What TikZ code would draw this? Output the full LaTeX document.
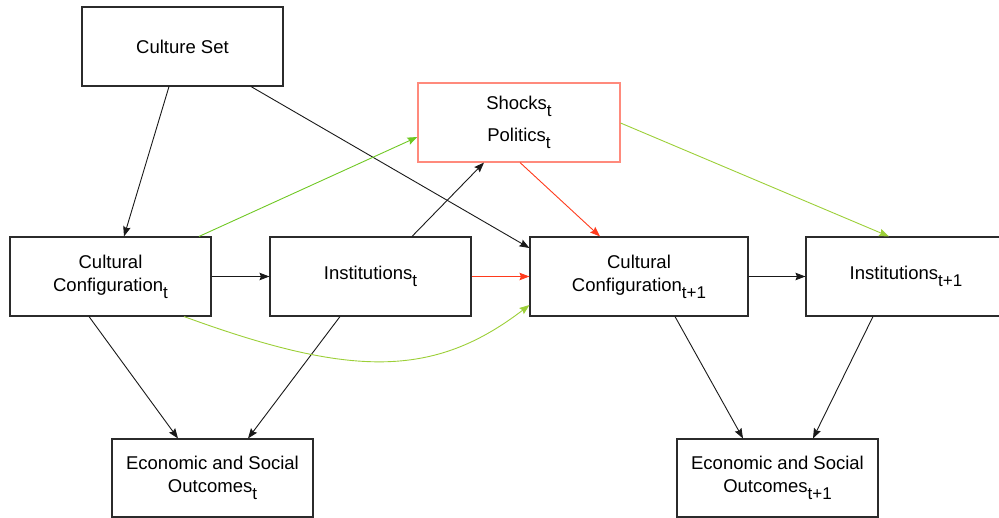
\documentclass[tikz,border=0pt]{standalone}
\usepackage{fontspec}
\setmainfont{Liberation Sans}
\usetikzlibrary{arrows.meta}
\newcommand{\lowidx}[1]{\raisebox{-7pt}{\fontsize{17}{17}\selectfont #1}}
\definecolor{boxline}{HTML}{2B2B2B}
\definecolor{leafgreen}{HTML}{6FC823}
\definecolor{palegreen}{HTML}{9CCF38}
\definecolor{hotred}{HTML}{FF3A1C}
\definecolor{salmon}{HTML}{FF8A7C}
\begin{document}
\begin{tikzpicture}[x=1pt,y=-1pt,
  stagebox/.style={draw=boxline,line width=1.1pt,fill=white,inner sep=0pt,
    minimum width=201pt,minimum height=79pt,align=center,
    font=\fontsize{18.5}{23}\selectfont},
  link/.style={line width=0.9pt,-{Stealth[length=10pt,width=7.5pt,inset=1.5pt]}},
  blacklink/.style={link,draw=black!90},
  greenlink/.style={link,draw=leafgreen},
  palelink/.style={link,draw=palegreen},
  redlink/.style={link,draw=hotred}]
\useasboundingbox (0,0) rectangle (999,518);
\begin{scope}
\clip (0,0) rectangle (999,518);
% boxes
\node[stagebox] (cs) at (182.5,46.5) {Culture Set};
\node[stagebox,draw=salmon,minimum width=202pt] (sh) at (519,122.5)
  {Shocks\lowidx{t}\\[9pt]Politics\lowidx{t}};
\node[stagebox] (cc0) at (110.5,276.5) {Cultural\\Configuration\lowidx{t}};
\node[stagebox] (in0) at (370.5,276.5) {Institutions\lowidx{t}};
\node[stagebox,minimum width=218pt] (cc1) at (639,276.5)
  {Cultural\\Configuration\lowidx{t+1}};
\node[stagebox,minimum width=200pt] (in1) at (906,276.5) {Institutions\lowidx{t+1}};
\node[stagebox,minimum height=78pt] (ec0) at (212.5,478)
  {Economic and Social\\Outcomes\lowidx{t}};
\node[stagebox,minimum height=78pt] (ec1) at (777.5,478)
  {Economic and Social\\Outcomes\lowidx{t+1}};
% connectors
\draw[blacklink] ([xshift=-13.5pt]cs.south) -- ([xshift=13.5pt]cc0.north);
\draw[blacklink] ([xshift=68.5pt]cs.south) -- ([yshift=28.5pt]cc1.west);
\draw[greenlink] ([xshift=88.5pt]cc0.north) -- ([yshift=-14.5pt]sh.west);
\draw[blacklink] ([xshift=41.5pt]in0.north) -- ([xshift=-35pt]sh.south);
\draw[redlink] ([xshift=1pt]sh.south) -- ([xshift=-39pt]cc1.north);
\draw[palelink] ([yshift=-0.5pt]sh.east) -- ([xshift=-17pt]in1.north);
\draw[blacklink] (cc0.east) -- (in0.west);
\draw[redlink] (in0.east) -- (cc1.west);
\draw[blacklink] (cc1.east) -- (in1.west);
\draw[blacklink] ([xshift=-21.5pt]cc0.south) -- ([xshift=-34.5pt]ec0.north);
\draw[blacklink] ([xshift=-30.5pt]in0.south) -- ([xshift=35.5pt]ec0.north);
\draw[palelink] ([xshift=73.5pt]cc0.south) .. controls (352,378) and (434,378) .. ([yshift=-28.5pt]cc1.west);
\draw[blacklink] ([xshift=36pt]cc1.south) -- ([xshift=-34.5pt]ec1.north);
\draw[blacklink] ([xshift=-33pt]in1.south) -- ([xshift=35.5pt]ec1.north);
\end{scope}
\end{tikzpicture}
\end{document}
